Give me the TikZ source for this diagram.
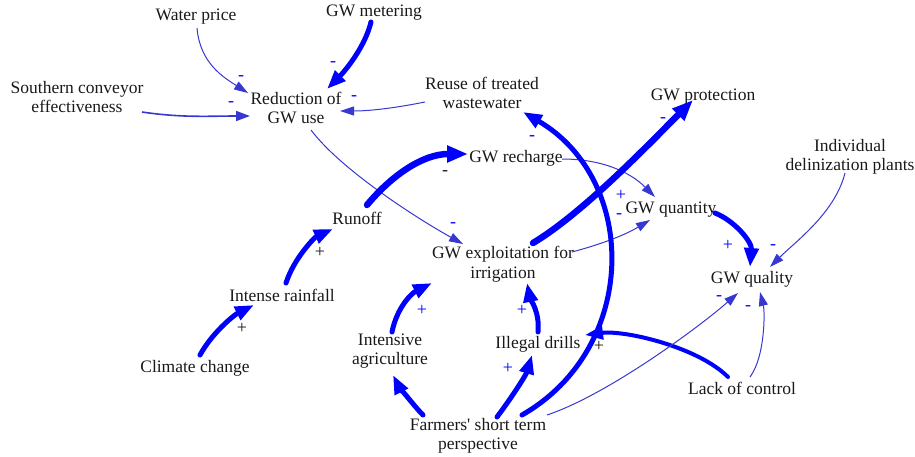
\documentclass[tikz,border=0pt]{standalone}
\usepackage{fontspec}
\setmainfont{Liberation Serif}
\usetikzlibrary{arrows.meta}
\definecolor{thinblue}{RGB}{55,55,210}
\definecolor{txt}{RGB}{25,25,25}
\tikzset{
  var/.style={font=\fontsize{17.5}{19.5}\selectfont, align=center, inner sep=0pt, text=txt},
  heavy/.style={draw=blue, line width=6.5pt, line cap=round, -{Triangle[length=21pt,width=16pt]}},
  strong/.style={draw=blue, line width=5pt, line cap=round, -{Triangle[length=19pt,width=14pt]}},
  medium/.style={draw=blue, line width=4pt, line cap=round, -{Triangle[length=18pt,width=13pt]}},
  slim/.style={draw=thinblue, line width=1pt, -{Triangle[length=14pt,width=9pt]}},
  slimmer/.style={draw=thinblue, line width=1.6pt, -{Triangle[length=14pt,width=10pt]}},
  pol/.style={font=\fontsize{18}{18}\selectfont, text=blue, inner sep=0pt},
  polk/.style={pol, text=txt},
}
\begin{document}
\begin{tikzpicture}[x=1pt,y=-1pt]
\useasboundingbox (0,0) rectangle (915,457);
% variables
\node[var] (WP)  at (196,17)  {Water price};
\node[var] (GM)  at (374,13)  {GW metering};
\node[var] (SC)  at (77,97)   {Southern conveyor\\effectiveness};
\node[var] (RG)  at (296,108) {Reduction of\\GW use};
\node[var] (RW)  at (482,93)  {Reuse of treated\\wastewater};
\node[var] (GP)  at (703,97)  {GW protection};
\node[var] (IDP) at (850,157) {Individual\\delinization plants};
\node[var] (GR)  at (516,158) {GW recharge};
\node[var] (RO)  at (357,218) {Runoff};
\node[var] (GQ)  at (671,210) {GW quantity};
\node[var] (GE)  at (503,264) {GW exploitation for\\irrigation};
\node[var] (GQL) at (752,279) {GW quality};
\node[var] (IR)  at (282,295) {Intense rainfall};
\node[var] (IA)  at (390,351) {Intensive\\agriculture};
\node[var] (ID)  at (538,344) {Illegal drills};
\node[var] (CC)  at (195,368) {Climate change};
\node[var] (LC)  at (742,388) {Lack of control};
\node[var] (FP)  at (478,436) {Farmers\textquotesingle\ short term\\perspective};
% links
\draw[slim]   ([shift={(1,11)}]WP.center) .. controls +(3,35) and +(-25,-16) .. ([shift={(-48,-15)}]RG.center);
\draw[strong] ([shift={(-3,9)}]GM.center) .. controls +(-6,25) and +(18,-18) .. ([shift={(31,-19)}]RG.center);
\draw[slimmer] ([shift={(65,15)}]SC.center) .. controls +(40,6) and +(-40,0) .. ([shift={(-46,8)}]RG.center);
\draw[slim]   ([shift={(-57,9)}]RW.center) .. controls +(-30,6) and +(30,0) .. ([shift={(44,3)}]RG.center);
\draw[slim]   ([shift={(15,22)}]RG.center) .. controls +(30,40) and +(-45,-25) .. ([shift={(-40,-20)}]GE.center);
\draw[heavy]  ([shift={(10,-13)}]RO.center) .. controls +(25,-30) and +(-45,0) .. ([shift={(-48,-4)}]GR.center);
\draw[slim]   ([shift={(46,1)}]GR.center) .. controls +(40,0) and +(-25,-25) .. ([shift={(-16,-13)}]GQ.center);
\draw[heavy]  ([shift={(30,-21)}]GE.center) .. controls +(50,-30) and +(-45,45) .. ([shift={(-10,3)}]GP.center);
\draw[slim]   ([shift={(69,-12)}]GE.center) .. controls +(30,-8) and +(-25,15) .. ([shift={(-21,10)}]GQ.center);
\draw[strong] ([shift={(44,3)}]GQ.center) .. controls +(20,8) and +(2,-25) .. ([shift={(-2,-12)}]GQL.center);
\draw[slim]   ([shift={(-5,16)}]IDP.center) .. controls +(-10,40) and +(25,-25) .. ([shift={(18,-12)}]GQL.center);
\draw[strong] ([shift={(4,-12)}]IR.center) .. controls +(8,-25) and +(-18,8) .. ([shift={(-24,11)}]RO.center);
\draw[strong] ([shift={(5,-13)}]CC.center) .. controls +(12,-22) and +(-20,10) .. ([shift={(-28,10)}]IR.center);
\draw[strong] ([shift={(2,-19)}]IA.center) .. controls +(5,-25) and +(-20,10) .. ([shift={(-71,19)}]GE.center);
\draw[strong] ([shift={(0,-12)}]ID.center) .. controls +(2,-20) and +(3,15) .. ([shift={(24,19)}]GE.center);
\draw[strong] ([shift={(-55,-21)}]FP.center) .. controls +(-10,-10) and +(4,8) .. ([shift={(3,24)}]IA.center);
\draw[strong] ([shift={(19,-19)}]FP.center) .. controls +(15,-20) and +(-6,20) .. ([shift={(-6,11)}]ID.center);
\draw[strong] ([shift={(44,-21)}]FP.center) .. controls +(117,-67) and +(116,68) .. ([shift={(41,19)}]RW.center);
\draw[medium] ([shift={(-14,-11)}]LC.center) .. controls +(-30,-30) and +(40,-5) .. ([shift={(47,-9)}]ID.center);
\draw[slim]   ([shift={(69,-21)}]FP.center) .. controls +(60,-20) and +(-40,35) .. ([shift={(-14,14)}]GQL.center);
\draw[slim]   ([shift={(8,-11)}]LC.center) .. controls +(15,-20) and +(5,20) .. ([shift={(8,13)}]GQL.center);
% polarities
\node[pol]  (p1)  at (241,78)  {-};
\node[pol]  (p2)  at (333,64)  {-};
\node[pol]  (p3)  at (231,104) {-};
\node[pol]  (p4)  at (354,98)  {-};
\node[pol]  (p5)  at (453,225) {-};
\node[polk] (p6)  at (445,173) {-};
\node[pol]  (p7)  at (621,195) {+};
\node[pol]  (p8)  at (663,120) {-};
\node[pol]  (p9)  at (619,216) {-};
\node[pol]  (p10) at (728,245) {+};
\node[pol]  (p11) at (773,247) {-};
\node[polk] (p12) at (320,252) {+};
\node[polk] (p13) at (242,328) {+};
\node[pol]  (p14) at (422,310) {+};
\node[pol]  (p15) at (522,310) {+};
\node[pol]  (p17) at (508,368) {+};
\node[pol]  (p18) at (532,138) {-};
\node[polk] (p19) at (599,346) {+};
\node[pol]  (p20) at (719,298) {-};
\node[pol]  (p21) at (748,308) {-};
\end{tikzpicture}
\end{document}
